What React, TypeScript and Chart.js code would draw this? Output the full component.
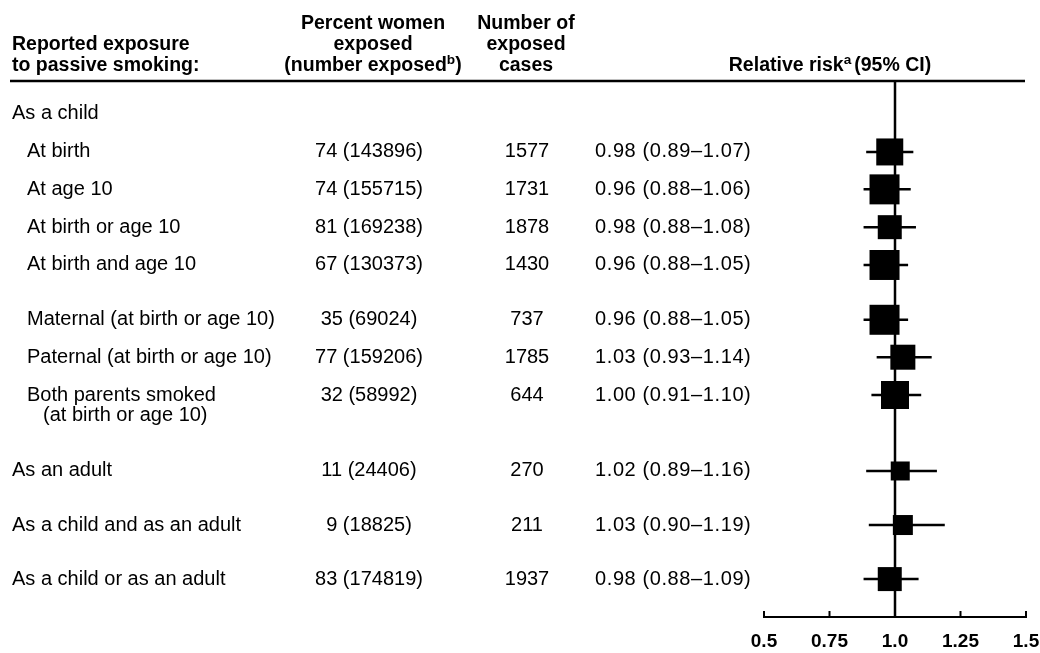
import { useEffect, useRef } from 'react';
import { Chart, registerables } from 'chart.js';

Chart.register(...registerables);

// ---- data ----
const sectionLabel = 'As a child';
const sectionPos = 0;
const rowLabels = [
  'At birth',
  'At age 10',
  'At birth or age 10',
  'At birth and age 10',
  'Maternal (at birth or age 10)',
  'Paternal (at birth or age 10)',
  'Both parents smoked\n(at birth or age 10)',
  'As an adult',
  'As a child and as an adult',
  'As a child or as an adult',
];
const rowIndent = [1, 1, 1, 1, 1, 1, 1, 0, 0, 0];
const percentExposed = [74, 74, 81, 67, 35, 77, 32, 11, 9, 83];
const numberExposed = [143896, 155715, 169238, 130373, 69024, 159206, 58992, 24406, 18825, 174819];
const exposedCases = [1577, 1731, 1878, 1430, 737, 1785, 644, 270, 211, 1937];
const relativeRisk = [0.98, 0.96, 0.98, 0.96, 0.96, 1.03, 1.0, 1.02, 1.03, 0.98];
const ciLow = [0.89, 0.88, 0.88, 0.88, 0.88, 0.93, 0.91, 0.89, 0.9, 0.88];
const ciHigh = [1.07, 1.06, 1.08, 1.05, 1.05, 1.14, 1.1, 1.16, 1.19, 1.09];
const markerSize = [27, 30, 24, 30, 30, 25, 28, 19, 20, 24];
const rowPos = [1.03, 2.02, 3.02, 4.02, 5.47, 6.46, 7.46, 9.47, 10.9, 12.33];
const xTicks = [0.5, 0.75, 1.0, 1.25, 1.5];
const xTickLabels = ['0.5', '0.75', '1.0', '1.25', '1.5'];

const Y_MIN = -0.847;
const Y_MAX = 13.333;
const FONT = '"Liberation Sans", Arial, Helvetica, sans-serif';

function font(size: number, bold = false) {
  return `${bold ? 'bold ' : ''}${size}px ${FONT}`;
}

// draw text with superscript, centered or left
function drawSup(
  ctx: CanvasRenderingContext2D,
  parts: { t: string; sup?: boolean }[],
  x: number,
  y: number,
  align: 'left' | 'center',
  size: number,
  gap = 0,
) {
  const widths = parts.map((p) => {
    ctx.font = font(p.sup ? size * 0.7 : size, true);
    return ctx.measureText(p.t).width;
  });
  const total = widths.reduce((a, b) => a + b, 0) + gap;
  let cx = align === 'center' ? x - total / 2 : x;
  ctx.textAlign = 'left';
  parts.forEach((p, i) => {
    ctx.font = font(p.sup ? size * 0.7 : size, true);
    ctx.textBaseline = 'middle';
    ctx.fillText(p.t, cx, p.sup ? y - 6 : y);
    cx += widths[i];
    if (p.sup) cx += gap;
  });
}

const tablePlugin = {
  id: 'tablePlugin',
  afterDraw(chart: any) {
    const ctx: any = chart.ctx;
    const ys = chart.scales.y;
    const xs = chart.scales.x;
    ctx.save();
    ctx.fillStyle = '#000';
    ctx.strokeStyle = '#000';

    // header
    const HS = 19.5;
    ctx.font = font(HS, true);
    ctx.textBaseline = 'middle';
    ctx.textAlign = 'left';
    ctx.fillText('Reported exposure', 12, 45);
    ctx.fillText('to passive smoking:', 12, 66);
    ctx.textAlign = 'center';
    ctx.fillText('Percent women', 373, 24);
    ctx.fillText('exposed', 373, 45);
    drawSup(ctx, [{ t: '(number exposed' }, { t: 'b', sup: true }, { t: ')' }], 373, 66, 'center', HS);
    ctx.font = font(HS, true);
    ctx.textAlign = 'center';
    ctx.fillText('Number of', 526, 24);
    ctx.fillText('exposed', 526, 45);
    ctx.fillText('cases', 526, 66);
    drawSup(ctx, [{ t: 'Relative risk' }, { t: 'a', sup: true }, { t: '(95% CI)' }], 830, 66, 'center', HS, 3);

    // header rule
    ctx.lineWidth = 2.5;
    ctx.beginPath();
    ctx.moveTo(10, 81);
    ctx.lineTo(1025, 81);
    ctx.stroke();

    // rows
    const RS = 20;
    ctx.font = font(RS);
    ctx.textBaseline = 'middle';
    ctx.textAlign = 'left';
    ctx.fillText(sectionLabel, 12, ys.getPixelForValue(sectionPos));
    rowLabels.forEach((lab, i) => {
      const y = ys.getPixelForValue(rowPos[i]);
      const x0 = rowIndent[i] ? 27 : 12;
      const lines = lab.split('\n');
      ctx.textAlign = 'left';
      lines.forEach((ln, k) => ctx.fillText(ln, x0 + (k ? 16 : 0), y + k * 20));
      ctx.textAlign = 'center';
      ctx.fillText(`${percentExposed[i]} (${numberExposed[i]})`, 369, y);
      ctx.fillText(`${exposedCases[i]}`, 527, y);
      ctx.textAlign = 'left';
      ctx.letterSpacing = '0.6px';
      ctx.fillText(
        `${relativeRisk[i].toFixed(2)} (${ciLow[i].toFixed(2)}\u2013${ciHigh[i].toFixed(2)})`,
        595,
        y,
      );
      ctx.letterSpacing = '0px';
    });

    // axis tick marks (upward)
    const axisY = chart.chartArea.bottom;
    ctx.lineWidth = 2;
    xTicks.forEach((v) => {
      const px = xs.getPixelForValue(v);
      ctx.beginPath();
      ctx.moveTo(px, axisY);
      ctx.lineTo(px, axisY - 6);
      ctx.stroke();
    });
    ctx.restore();
  },
};

export default function App() {
  const ref = useRef<HTMLCanvasElement | null>(null);
  useEffect(() => {
    if (!ref.current) return;
    const datasets: any[] = [];
    datasets.push({
      label: 'RR',
      data: relativeRisk.map((v, i) => ({ x: v, y: rowPos[i] })),
      pointStyle: 'rect',
      pointRadius: markerSize.map((s) => s / (2 * Math.SQRT1_2)),
      pointHoverRadius: markerSize.map((s) => s / (2 * Math.SQRT1_2)),
      backgroundColor: '#000',
      borderColor: '#000',
      borderWidth: 0,
      showLine: false,
    });
    relativeRisk.forEach((_, i) => {
      datasets.push({
        label: 'CI ' + i,
        data: [
          { x: ciLow[i], y: rowPos[i] },
          { x: ciHigh[i], y: rowPos[i] },
        ],
        showLine: true,
        borderColor: '#000',
        borderWidth: 2.5,
        pointRadius: 0,
        fill: false,
      });
    });
    datasets.push({
      label: 'ref',
      data: [
        { x: 1, y: Y_MIN },
        { x: 1, y: Y_MAX },
      ],
      showLine: true,
      borderColor: '#000',
      borderWidth: 2.5,
      pointRadius: 0,
      fill: false,
    });

    const chart = new Chart(ref.current, {
      type: 'scatter',
      data: { datasets },
      plugins: [tablePlugin],
      options: {
        animation: false,
        responsive: true,
        maintainAspectRatio: false,
        layout: { autoPadding: false, padding: { left: 764, right: 14, top: 81, bottom: 0 } },
        plugins: { legend: { display: false }, tooltip: { enabled: false } },
        events: [],
        scales: {
          x: {
            type: 'linear',
            position: 'bottom',
            min: 0.5,
            max: 1.5,
            afterFit: (s: any) => {
              s.height = 36;
              s.paddingLeft = 0;
              s.paddingRight = 0;
            },
            afterBuildTicks: (s: any) => {
              s.ticks = xTicks.map((v) => ({ value: v }));
            },
            grid: { display: false, drawTicks: false },
            border: { display: true, color: '#000', width: 2 },
            ticks: {
              autoSkip: false,
              maxRotation: 0,
              padding: 13,
              color: '#000',
              font: { family: FONT, size: 19, weight: 'bold' },
              callback: (v: any) => {
                const idx = xTicks.findIndex((t) => Math.abs(t - Number(v)) < 1e-9);
                return idx >= 0 ? xTickLabels[idx] : '';
              },
            },
          },
          y: {
            type: 'linear',
            display: false,
            reverse: true,
            min: Y_MIN,
            max: Y_MAX,
          },
        },
      },
    });
    return () => chart.destroy();
  }, []);

  return (
    <div style={{ position: 'absolute', left: 0, top: 0, width: 1040, height: 653, background: '#fff' }}>
      <canvas ref={ref} />
    </div>
  );
}
